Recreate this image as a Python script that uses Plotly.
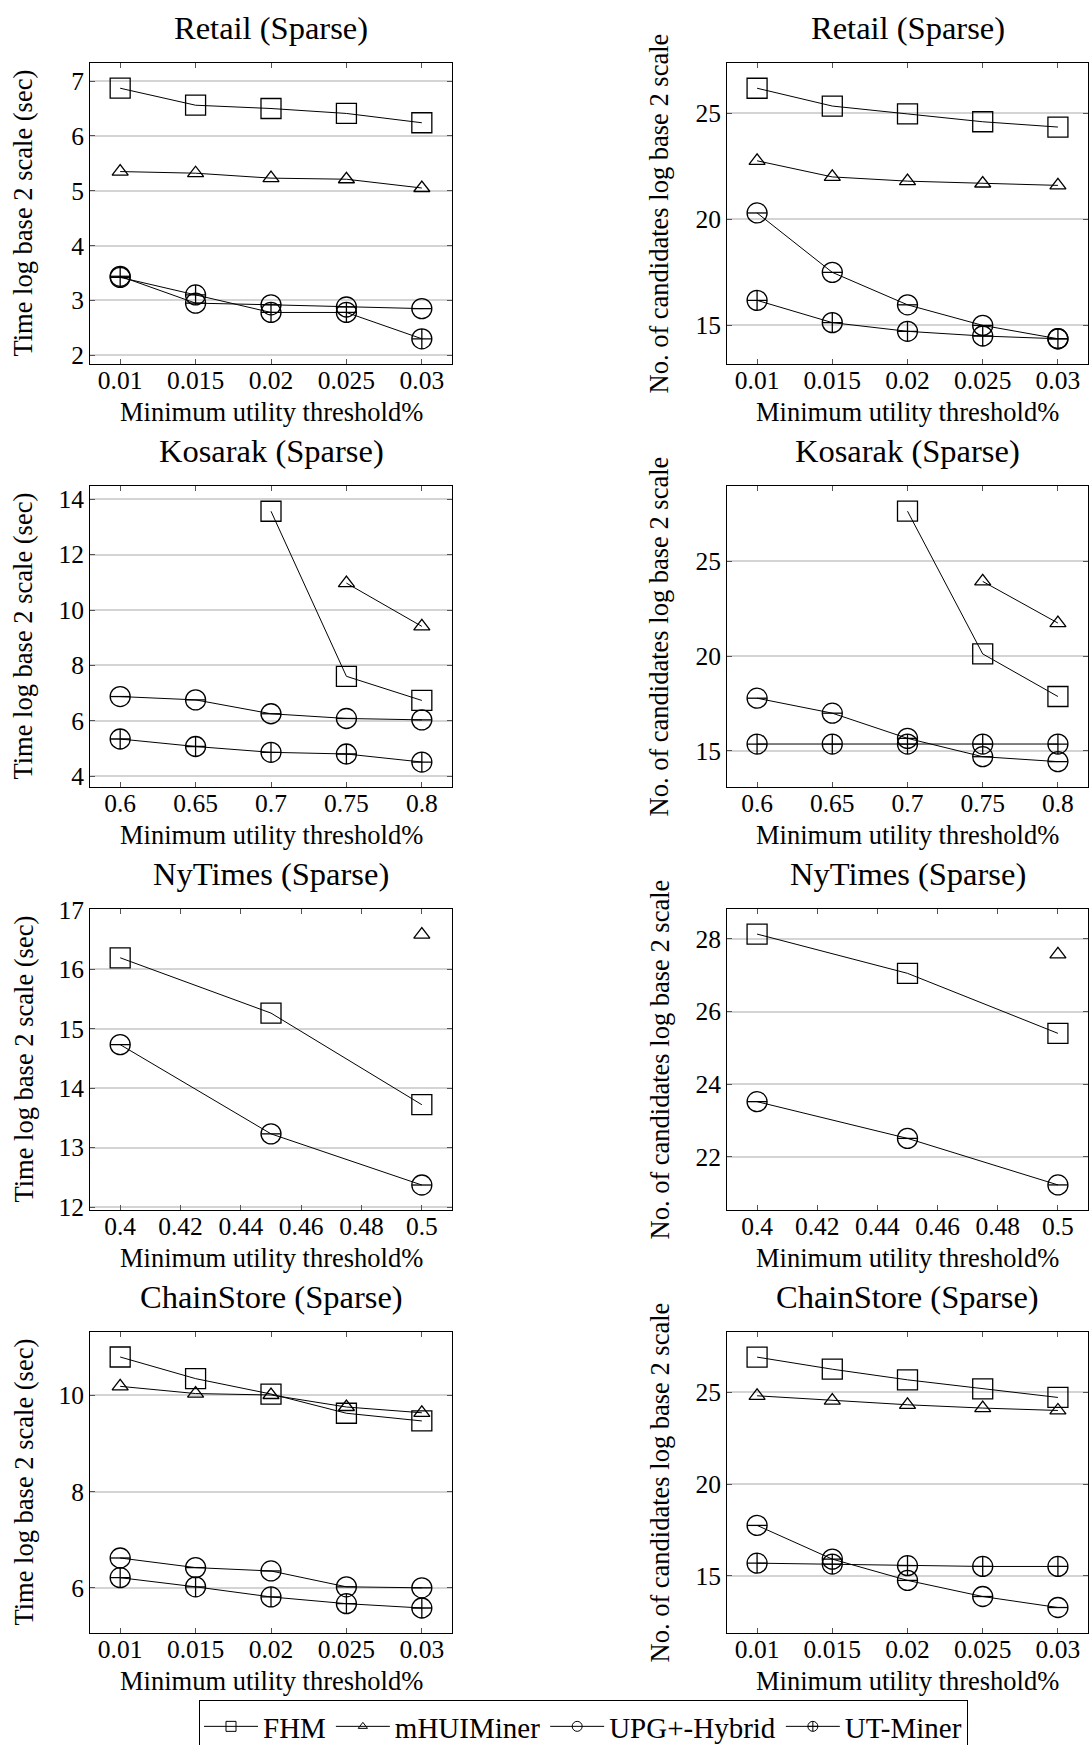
import plotly.graph_objects as go

W, H = 1089, 1745

# ---------------- data ----------------
series_names = ["FHM", "mHUIMiner", "UPG+-Hybrid", "UT-Miner"]

retail_x = [0.01, 0.015, 0.02, 0.025, 0.03]
retail_xticks = ["0.01", "0.015", "0.02", "0.025", "0.03"]
retail_time_fhm = [6.87, 6.56, 6.50, 6.41, 6.24]
retail_time_mhui = [5.35, 5.32, 5.23, 5.21, 5.05]
retail_time_upg = [3.44, 2.95, 2.92, 2.88, 2.85]
retail_time_ut = [3.42, 3.10, 2.78, 2.78, 2.30]
retail_cand_fhm = [26.18, 25.34, 24.97, 24.60, 24.35]
retail_cand_mhui = [22.76, 22.00, 21.80, 21.69, 21.60]
retail_cand_upg = [20.30, 17.50, 15.97, 15.00, 14.37]
retail_cand_ut = [16.18, 15.13, 14.72, 14.50, 14.37]

kosarak_x = [0.6, 0.65, 0.7, 0.75, 0.8]
kosarak_xticks = ["0.6", "0.65", "0.7", "0.75", "0.8"]
kosarak_time_fhm = [None, None, 13.56, 7.61, 6.74]
kosarak_time_mhui = [None, None, None, 10.97, 9.41]
kosarak_time_upg = [6.88, 6.76, 6.26, 6.09, 6.04]
kosarak_time_ut = [5.35, 5.08, 4.87, 4.81, 4.52]
kosarak_cand_fhm = [None, None, 27.65, 20.11, 17.86]
kosarak_cand_mhui = [None, None, None, 23.94, 21.74]
kosarak_cand_upg = [17.77, 16.98, 15.65, 14.68, 14.42]
kosarak_cand_ut = [15.35, 15.35, 15.35, 15.35, 15.35]

nytimes_x = [0.4, 0.45, 0.5]
nytimes_tickvals = [0.4, 0.42, 0.44, 0.46, 0.48, 0.5]
nytimes_xticks = ["0.4", "0.42", "0.44", "0.46", "0.48", "0.5"]
nytimes_time_fhm = [16.19, 15.26, 13.72]
nytimes_time_mhui = [None, None, 16.58]
nytimes_time_upg = [14.73, 13.23, 12.37]
nytimes_cand_fhm = [28.13, 27.05, 25.40]
nytimes_cand_mhui = [None, None, 27.57]
nytimes_cand_upg = [23.52, 22.51, 21.23]

chain_x = [0.01, 0.015, 0.02, 0.025, 0.03]
chain_xticks = ["0.01", "0.015", "0.02", "0.025", "0.03"]
chain_time_fhm = [10.80, 10.35, 10.03, 9.63, 9.47]
chain_time_mhui = [10.19, 10.04, 10.01, 9.76, 9.64]
chain_time_upg = [6.62, 6.42, 6.35, 6.02, 6.00]
chain_time_ut = [6.21, 6.02, 5.81, 5.67, 5.58]
chain_cand_fhm = [26.93, 26.27, 25.69, 25.20, 24.73]
chain_cand_mhui = [24.82, 24.56, 24.33, 24.15, 24.02]
chain_cand_upg = [17.75, 15.91, 14.75, 13.87, 13.27]
chain_cand_ut = [15.69, 15.64, 15.55, 15.51, 15.51]

time_label = "Time log base 2 scale (sec)"
cand_label = "No. of candidates log base 2 scale"
x_label = "Minimum utility threshold%"

panels = [
    dict(title="Retail (Sparse)", col=0, row=0, x=retail_x, tv=retail_x, tt=retail_xticks,
         xr=[0.008, 0.032], yr=[1.84, 7.33], yt=[2, 3, 4, 5, 6, 7], ylab=time_label,
         s=[retail_time_fhm, retail_time_mhui, retail_time_upg, retail_time_ut]),
    dict(title="Retail (Sparse)", col=1, row=0, x=retail_x, tv=retail_x, tt=retail_xticks,
         xr=[0.008, 0.032], yr=[13.18, 27.37], yt=[15, 20, 25], ylab=cand_label,
         s=[retail_cand_fhm, retail_cand_mhui, retail_cand_upg, retail_cand_ut]),
    dict(title="Kosarak (Sparse)", col=0, row=1, x=kosarak_x, tv=kosarak_x, tt=kosarak_xticks,
         xr=[0.58, 0.82], yr=[3.62, 14.47], yt=[4, 6, 8, 10, 12, 14], ylab=time_label,
         s=[kosarak_time_fhm, kosarak_time_mhui, kosarak_time_upg, kosarak_time_ut]),
    dict(title="Kosarak (Sparse)", col=1, row=1, x=kosarak_x, tv=kosarak_x, tt=kosarak_xticks,
         xr=[0.58, 0.82], yr=[13.08, 28.98], yt=[15, 20, 25], ylab=cand_label,
         s=[kosarak_cand_fhm, kosarak_cand_mhui, kosarak_cand_upg, kosarak_cand_ut]),
    dict(title="NyTimes (Sparse)", col=0, row=2, x=nytimes_x, tv=nytimes_tickvals, tt=nytimes_xticks,
         xr=[0.39, 0.51], yr=[11.95, 17.01], yt=[12, 13, 14, 15, 16, 17], ylab=time_label,
         s=[nytimes_time_fhm, nytimes_time_mhui, nytimes_time_upg, None]),
    dict(title="NyTimes (Sparse)", col=1, row=2, x=nytimes_x, tv=nytimes_tickvals, tt=nytimes_xticks,
         xr=[0.39, 0.51], yr=[20.54, 28.82], yt=[22, 24, 26, 28], ylab=cand_label,
         s=[nytimes_cand_fhm, nytimes_cand_mhui, nytimes_cand_upg, None]),
    dict(title="ChainStore (Sparse)", col=0, row=3, x=chain_x, tv=chain_x, tt=chain_xticks,
         xr=[0.008, 0.032], yr=[5.06, 11.32], yt=[6, 8, 10], ylab=time_label,
         s=[chain_time_fhm, chain_time_mhui, chain_time_upg, chain_time_ut]),
    dict(title="ChainStore (Sparse)", col=1, row=3, x=chain_x, tv=chain_x, tt=chain_xticks,
         xr=[0.008, 0.032], yr=[11.88, 28.30], yt=[15, 20, 25], ylab=cand_label,
         s=[chain_cand_fhm, chain_cand_mhui, chain_cand_upg, chain_cand_ut]),
]

# ---------------- style ----------------
FONT = "Liberation Serif"
col_left = [(90, 452), (727, 1088)]
row_top = [63, 486, 909, 1332]
PH = 301
ylab_x = [23, 659]

marker_styles = [
    dict(symbol="square-open", size=20),
    dict(symbol="triangle-up-open", size=14),
    dict(symbol="circle-open", size=20),
    dict(symbol="circle-cross-open", size=20),
]
legend_marker_sizes = [10, 8, 10, 10]

fig = go.Figure()
annotations = []
layout = {}

for i, p in enumerate(panels):
    k = i + 1
    xa = "x" if k == 1 else f"x{k}"
    ya = "y" if k == 1 else f"y{k}"
    x0, x1 = col_left[p["col"]]
    top = row_top[p["row"]]
    bot = top + PH
    dom_x = [x0 / W, x1 / W]
    dom_y = [1 - bot / H, 1 - top / H]

    for j, vals in enumerate(p["s"]):
        if vals is None:
            continue
        ms = marker_styles[j]
        fig.add_trace(go.Scatter(
            x=p["x"], y=vals, mode="lines+markers", name=series_names[j],
            xaxis=xa, yaxis=ya, showlegend=False, legendgroup=series_names[j],
            line=dict(color="black", width=1),
            marker=dict(symbol=ms["symbol"], size=ms["size"], color="black",
                        line=dict(width=1.3, color="black")),
            cliponaxis=False,
        ))
        if j == 2:  # horizontal bar inside circle (ominus mark)
            fig.add_trace(go.Scatter(
                x=p["x"], y=vals, mode="markers", name=series_names[j],
                xaxis=xa, yaxis=ya, showlegend=False, legendgroup=series_names[j],
                marker=dict(symbol="line-ew-open", size=14.3, color="black",
                            line=dict(width=1.3, color="black")),
                cliponaxis=False,
            ))

    axis_common = dict(showline=True, linecolor="black", linewidth=1, mirror="ticks",
                       ticks="inside", ticklen=5, tickcolor="#555555", tickwidth=1,
                       tickfont=dict(family=FONT, size=25.5, color="black"), zeroline=False)
    layout["xaxis" if k == 1 else f"xaxis{k}"] = dict(
        domain=dom_x, anchor=ya, range=p["xr"], tickmode="array", tickvals=p["tv"],
        ticktext=p["tt"], showgrid=False, ticklabelstandoff=-7, **axis_common)
    layout["yaxis" if k == 1 else f"yaxis{k}"] = dict(
        domain=dom_y, anchor=xa, range=p["yr"], tickmode="array", tickvals=p["yt"],
        ticktext=[str(v) for v in p["yt"]], showgrid=True, gridcolor="#d4d4d4",
        gridwidth=1.5, **axis_common)

    cx = (x0 + x1) / 2
    annotations.append(dict(text=p["title"], x=cx / W, y=1 - (top - 35) / H, xref="paper",
                            yref="paper", showarrow=False, xanchor="center", yanchor="middle",
                            font=dict(family=FONT, size=32.5, color="black")))
    annotations.append(dict(text=x_label, x=cx / W, y=1 - (bot + 48) / H, xref="paper",
                            yref="paper", showarrow=False, xanchor="center", yanchor="middle",
                            font=dict(family=FONT, size=26.5, color="black")))
    annotations.append(dict(text=p["ylab"], x=ylab_x[p["col"]] / W, y=1 - (top + PH / 2) / H,
                            xref="paper", yref="paper", showarrow=False, textangle=-90,
                            xanchor="center", yanchor="middle",
                            font=dict(family=FONT, size=26.5, color="black")))

# legend entries (small marks, like the reference legend)
for j, name in enumerate(series_names):
    fig.add_trace(go.Scatter(
        x=[None], y=[None], mode="lines+markers", name=name, showlegend=True,
        legendgroup=name, line=dict(color="black", width=1),
        marker=dict(symbol=marker_styles[j]["symbol"], size=legend_marker_sizes[j],
                    color="black", line=dict(width=1, color="black")),
    ))

fig.update_layout(
    width=W, height=H, autosize=False,
    margin=dict(l=0, r=0, t=0, b=0, autoexpand=False),
    paper_bgcolor="white", plot_bgcolor="white",
    font=dict(family=FONT, color="black"),
    annotations=annotations,
    showlegend=True,
    legend=dict(orientation="h", x=199 / W, y=1 - 1700 / H, xanchor="left", yanchor="top",
                bordercolor="black", borderwidth=1, bgcolor="white", itemwidth=54,
                font=dict(family=FONT, size=29, color="black")),
    **layout,
)

fig.write_html("out.html")
